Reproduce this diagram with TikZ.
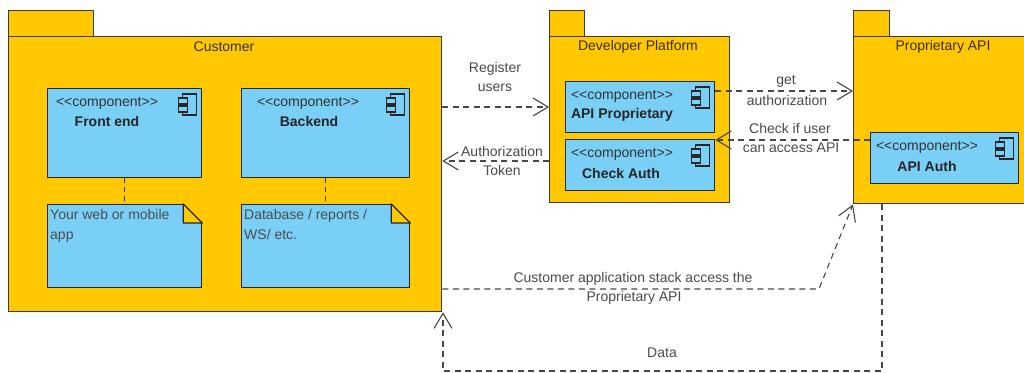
\documentclass[tikz,border=0pt]{standalone}
\usepackage{fontspec}
\setmainfont{Liberation Sans}
\usetikzlibrary{arrows.meta}
\definecolor{pkgfill}{HTML}{FFC800}
\definecolor{boxfill}{HTML}{7ACFF6}
\definecolor{edgecol}{HTML}{3A3A30}
\definecolor{linkcol}{HTML}{484848}
\definecolor{labelcol}{HTML}{4A4A4A}
\definecolor{titlecol}{HTML}{3A3010}
\newcommand{\stereotext}{<{}<component>{}>}
\tikzset{
  pkg/.style={draw=edgecol,line width=1.3pt,fill=pkgfill,rectangle,anchor=north west,inner sep=0pt},
  comp/.style={draw=black!85,line width=1.3pt,fill=boxfill,rectangle,anchor=north west,inner sep=0pt},
  title/.style={font=\fontsize{14}{16}\selectfont,text=titlecol,inner sep=0pt},
  stereo/.style={font=\fontsize{14}{16}\selectfont,text=black!80,inner sep=0pt},
  cname/.style={font=\fontsize{14}{16}\selectfont\bfseries,text=black!85,inner sep=0pt},
  notetxt/.style={font=\fontsize{14}{20}\selectfont,text=black!70,inner sep=0pt,anchor=north west,align=left},
  lbl/.style={font=\fontsize{14}{16}\selectfont,text=labelcol,inner sep=0pt},
  link/.style={draw=linkcol,line width=1.1pt,dash pattern=on 6pt off 4.5pt},
  dep/.style={link,-{Straight Barb[length=15pt,width=18pt,line width=1.1pt]}},
  tie/.style={draw=black!80,line width=1.1pt,dash pattern=on 5pt off 4pt},
}
\newcommand{\compicon}[1]{%
  \draw[black!85,line width=1.2pt,fill=boxfill] ([shift={(-20,6)}]#1.north east) rectangle ([shift={(-6,27)}]#1.north east);
  \draw[black!85,line width=1.2pt,fill=boxfill] ([shift={(-24,10)}]#1.north east) rectangle ([shift={(-15,16)}]#1.north east);
  \draw[black!85,line width=1.2pt,fill=boxfill] ([shift={(-24,18)}]#1.north east) rectangle ([shift={(-15,24)}]#1.north east);
}
\newcommand{\notefold}[1]{%
  \fill[pkgfill] ([shift={(-19,-1)}]#1.north east) rectangle ([shift={(1,19)}]#1.north east);
  \draw[black!85,line width=1.3pt,fill=pkgfill,line join=round] ([shift={(-19,0)}]#1.north east) -- ([shift={(0,19)}]#1.north east) -- ([shift={(-19,19)}]#1.north east) -- cycle;
}
\begin{document}
\begin{tikzpicture}[x=1pt,y=-1pt]
\useasboundingbox (0,0) rectangle (1024,372);
% packages
\node[pkg,minimum width=85pt,minimum height=26pt] (custtab) at (8,10) {};
\node[pkg,minimum width=433pt,minimum height=275pt] (cust) at (8,36) {};
\node[pkg,minimum width=35pt,minimum height=26pt] (devtab) at (549,10) {};
\node[pkg,minimum width=180pt,minimum height=166pt] (dev) at (549,36) {};
\node[pkg,minimum width=36pt,minimum height=26pt] (apitab) at (853,10) {};
\node[pkg,minimum width=172pt,minimum height=167pt] (api) at (853,36) {};
\node[title] (custt) at (224,46.5) {Customer};
\node[title] (devt) at (638,46.5) {Developer Platform};
\node[title] (apit) at (943,46.5) {Proprietary API};
% customer content
\node[comp,minimum width=154pt,minimum height=89pt] (front) at (47,88) {};
\node[comp,minimum width=168pt,minimum height=89pt] (back) at (241,88) {};
\node[comp,minimum width=154pt,minimum height=83pt] (note1) at (47,204) {};
\node[comp,minimum width=168pt,minimum height=83pt] (note2) at (241,204) {};
\notefold{note1}
\notefold{note2}
\compicon{front}
\compicon{back}
\node[stereo] (fs) at (107,103) {\stereotext};
\node[cname] (fn) at (107,121) {Front end};
\node[stereo] (bs) at (308,103) {\stereotext};
\node[cname] (bn) at (309,121) {Backend};
\node[notetxt] (n1t) at (50,209) {Your web or mobile\\app};
\node[notetxt] (n2t) at (244,209) {Database / reports /\\WS/ etc.};
\draw[tie] (front.south) -- (note1.north -| front.south);
\draw[tie] (back.south) -- (note2.north -| back.south);
% developer content
\node[comp,minimum width=149pt,minimum height=51pt] (apiprop) at (565,81) {};
\node[comp,minimum width=149pt,minimum height=51pt] (check) at (565,139) {};
\compicon{apiprop}
\compicon{check}
\node[stereo] (ps) at (622,96) {\stereotext};
\node[cname] (pn) at (622,115) {API Proprietary};
\node[stereo] (cs) at (622,154) {\stereotext};
\node[cname] (cn) at (621,173) {Check Auth};
% api content
\node[comp,minimum width=148pt,minimum height=51pt] (auth) at (870,132) {};
\compicon{auth}
\node[stereo] (as) at (927,147) {\stereotext};
\node[cname] (an) at (927,166) {API Auth};
% connectors
\draw[dep] (cust.east |- 0,107) -- (dev.west |- 0,107);
\draw[dep] (dev.west |- 0,161) -- (cust.east |- 0,161);
\draw[dep] (apiprop.east |- 0,91) -- (api.west |- 0,91);
\draw[dep] (auth.west |- 0,140) -- (check.east |- 0,140);
\coordinate (bend1) at (819,289);
\draw[dep] (cust.east |- bend1) -- (bend1) -- (api.south west);
\coordinate (bend2) at (882,371);
\coordinate (bend3) at (443,371);
\draw[dep] (api.south -| bend2) -- (bend2) -- (bend3) -- (bend3 |- cust.south);
% labels
\node[lbl] (l1) at (495,69) {Register};
\node[lbl] (l2) at (495,88) {users};
\node[lbl] (l3) at (502,151) {Authorization};
\node[lbl] (l4) at (502,170) {Token};
\node[lbl] (l5) at (786,81) {get};
\node[lbl] (l6) at (787,100) {authorization};
\node[lbl] (l7) at (790,128) {Check if user};
\node[lbl] (l8) at (791,148) {can access API};
\node[lbl] (l9) at (633,279) {Customer application stack access the};
\node[lbl] (l10) at (634,298) {Proprietary API};
\node[lbl] (l11) at (662,353) {Data};
\end{tikzpicture}
\end{document}
